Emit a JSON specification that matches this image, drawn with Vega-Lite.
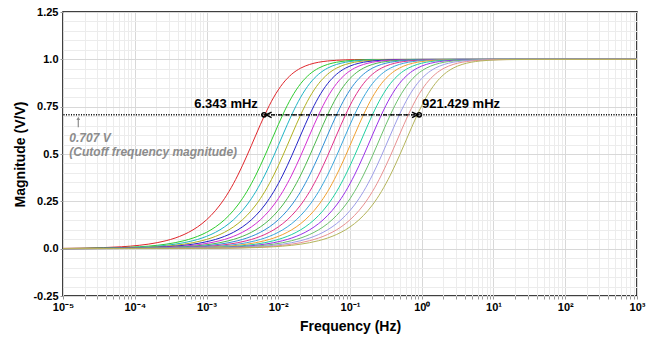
{
"$schema": "https://vega.github.io/schema/vega-lite/v6.json",
"width": 574, "height": 284,
"autosize": "none",
"padding": {"left": 63, "top": 12, "right": 19, "bottom": 43},
"background": "white",
"config": {"view": {"stroke": "#000", "strokeWidth": 1.5}, "font": "Liberation Sans"},
"resolve": {"axis": {"y": "independent"}},
"datasets": {
"curves": [
{"c":1,"f":1e-5,"m":0.0015},{"c":1,"f":2.054e-5,"m":0.0032},{"c":1,"f":3.652e-5,"m":0.0056},{"c":1,"f":6.494e-5,"m":0.01},{"c":1,"f":1.155e-4,"m":0.0178},
{"c":1,"f":2.054e-4,"m":0.0316},{"c":1,"f":2.738e-4,"m":0.0421},{"c":1,"f":3.652e-4,"m":0.0561},{"c":1,"f":4.87e-4,"m":0.0748},{"c":1,"f":6.494e-4,"m":0.0995},{"c":1,"f":8.66e-4,"m":0.1322},{"c":1,"f":1.155e-3,"m":0.1751},{"c":1,"f":1.54e-3,"m":0.2307},{"c":1,"f":2.054e-3,"m":0.3015},{"c":1,"f":2.738e-3,"m":0.3886},{"c":1,"f":3.652e-3,"m":0.4902},{"c":1,"f":4.87e-3,"m":0.5999},{"c":1,"f":6.494e-3,"m":0.7071},{"c":1,"f":8.66e-3,"m":0.8},{"c":1,"f":0.01155,"m":0.8716},{"c":1,"f":0.0154,"m":0.9214},{"c":1,"f":0.02054,"m":0.9535},{"c":1,"f":0.02738,"m":0.973},{"c":1,"f":0.03652,"m":0.9846},{"c":1,"f":0.0487,"m":0.9912},{"c":1,"f":0.06494,"m":0.995},
{"c":1,"f":0.1155,"m":0.9984},{"c":1,"f":0.2054,"m":0.9995},{"c":1,"f":1000,"m":1},

{"c":2,"f":1e-5,"m":0.0009},{"c":2,"f":3.652e-5,"m":0.0032},{"c":2,"f":6.494e-5,"m":0.0056},{"c":2,"f":1.155e-4,"m":0.01},{"c":2,"f":2.054e-4,"m":0.0178},
{"c":2,"f":3.652e-4,"m":0.0316},{"c":2,"f":4.87e-4,"m":0.0421},{"c":2,"f":6.494e-4,"m":0.0561},{"c":2,"f":8.66e-4,"m":0.0748},{"c":2,"f":1.155e-3,"m":0.0995},{"c":2,"f":1.54e-3,"m":0.1322},{"c":2,"f":2.054e-3,"m":0.1751},{"c":2,"f":2.738e-3,"m":0.2307},{"c":2,"f":3.652e-3,"m":0.3015},{"c":2,"f":4.87e-3,"m":0.3886},{"c":2,"f":6.494e-3,"m":0.4902},{"c":2,"f":8.66e-3,"m":0.5999},{"c":2,"f":0.01155,"m":0.7071},{"c":2,"f":0.0154,"m":0.8},{"c":2,"f":0.02054,"m":0.8716},{"c":2,"f":0.02738,"m":0.9214},{"c":2,"f":0.03652,"m":0.9535},{"c":2,"f":0.0487,"m":0.973},{"c":2,"f":0.06494,"m":0.9846},{"c":2,"f":0.0866,"m":0.9912},{"c":2,"f":0.1155,"m":0.995},
{"c":2,"f":0.2054,"m":0.9984},{"c":2,"f":0.3652,"m":0.9995},{"c":2,"f":1000,"m":1},

{"c":3,"f":1e-5,"m":0.0006},{"c":3,"f":4.87e-5,"m":0.0032},{"c":3,"f":8.66e-5,"m":0.0056},{"c":3,"f":1.54e-4,"m":0.01},{"c":3,"f":2.738e-4,"m":0.0178},
{"c":3,"f":4.87e-4,"m":0.0316},{"c":3,"f":6.494e-4,"m":0.0421},{"c":3,"f":8.66e-4,"m":0.0561},{"c":3,"f":1.155e-3,"m":0.0748},{"c":3,"f":1.54e-3,"m":0.0995},{"c":3,"f":2.054e-3,"m":0.1322},{"c":3,"f":2.738e-3,"m":0.1751},{"c":3,"f":3.652e-3,"m":0.2307},{"c":3,"f":4.87e-3,"m":0.3015},{"c":3,"f":6.494e-3,"m":0.3886},{"c":3,"f":8.66e-3,"m":0.4902},{"c":3,"f":0.01155,"m":0.5999},{"c":3,"f":0.0154,"m":0.7071},{"c":3,"f":0.02054,"m":0.8},{"c":3,"f":0.02738,"m":0.8716},{"c":3,"f":0.03652,"m":0.9214},{"c":3,"f":0.0487,"m":0.9535},{"c":3,"f":0.06494,"m":0.973},{"c":3,"f":0.0866,"m":0.9846},{"c":3,"f":0.1155,"m":0.9912},{"c":3,"f":0.154,"m":0.995},
{"c":3,"f":0.2738,"m":0.9984},{"c":3,"f":0.487,"m":0.9995},{"c":3,"f":1000,"m":1},

{"c":4,"f":1e-5,"m":0.0005},{"c":4,"f":6.494e-5,"m":0.0032},{"c":4,"f":1.155e-4,"m":0.0056},{"c":4,"f":2.054e-4,"m":0.01},{"c":4,"f":3.652e-4,"m":0.0178},
{"c":4,"f":6.494e-4,"m":0.0316},{"c":4,"f":8.66e-4,"m":0.0421},{"c":4,"f":1.155e-3,"m":0.0561},{"c":4,"f":1.54e-3,"m":0.0748},{"c":4,"f":2.054e-3,"m":0.0995},{"c":4,"f":2.738e-3,"m":0.1322},{"c":4,"f":3.652e-3,"m":0.1751},{"c":4,"f":4.87e-3,"m":0.2307},{"c":4,"f":6.494e-3,"m":0.3015},{"c":4,"f":8.66e-3,"m":0.3886},{"c":4,"f":0.01155,"m":0.4902},{"c":4,"f":0.0154,"m":0.5999},{"c":4,"f":0.02054,"m":0.7071},{"c":4,"f":0.02738,"m":0.8},{"c":4,"f":0.03652,"m":0.8716},{"c":4,"f":0.0487,"m":0.9214},{"c":4,"f":0.06494,"m":0.9535},{"c":4,"f":0.0866,"m":0.973},{"c":4,"f":0.1155,"m":0.9846},{"c":4,"f":0.154,"m":0.9912},{"c":4,"f":0.2054,"m":0.995},
{"c":4,"f":0.3652,"m":0.9984},{"c":4,"f":0.6494,"m":0.9995},{"c":4,"f":1000,"m":1},

{"c":5,"f":1e-5,"m":0.0004},{"c":5,"f":8.66e-5,"m":0.0032},{"c":5,"f":1.54e-4,"m":0.0056},{"c":5,"f":2.738e-4,"m":0.01},{"c":5,"f":4.87e-4,"m":0.0178},
{"c":5,"f":8.66e-4,"m":0.0316},{"c":5,"f":1.155e-3,"m":0.0421},{"c":5,"f":1.54e-3,"m":0.0561},{"c":5,"f":2.054e-3,"m":0.0748},{"c":5,"f":2.738e-3,"m":0.0995},{"c":5,"f":3.652e-3,"m":0.1322},{"c":5,"f":4.87e-3,"m":0.1751},{"c":5,"f":6.494e-3,"m":0.2307},{"c":5,"f":8.66e-3,"m":0.3015},{"c":5,"f":0.01155,"m":0.3886},{"c":5,"f":0.0154,"m":0.4902},{"c":5,"f":0.02054,"m":0.5999},{"c":5,"f":0.02738,"m":0.7071},{"c":5,"f":0.03652,"m":0.8},{"c":5,"f":0.0487,"m":0.8716},{"c":5,"f":0.06494,"m":0.9214},{"c":5,"f":0.0866,"m":0.9535},{"c":5,"f":0.1155,"m":0.973},{"c":5,"f":0.154,"m":0.9846},{"c":5,"f":0.2054,"m":0.9912},{"c":5,"f":0.2738,"m":0.995},
{"c":5,"f":0.487,"m":0.9984},{"c":5,"f":0.866,"m":0.9995},{"c":5,"f":1000,"m":1},

{"c":6,"f":1e-5,"m":0.0003},{"c":6,"f":1.155e-4,"m":0.0032},{"c":6,"f":2.054e-4,"m":0.0056},{"c":6,"f":3.652e-4,"m":0.01},{"c":6,"f":6.494e-4,"m":0.0178},
{"c":6,"f":1.155e-3,"m":0.0316},{"c":6,"f":1.54e-3,"m":0.0421},{"c":6,"f":2.054e-3,"m":0.0561},{"c":6,"f":2.738e-3,"m":0.0748},{"c":6,"f":3.652e-3,"m":0.0995},{"c":6,"f":4.87e-3,"m":0.1322},{"c":6,"f":6.494e-3,"m":0.1751},{"c":6,"f":8.66e-3,"m":0.2307},{"c":6,"f":0.01155,"m":0.3015},{"c":6,"f":0.0154,"m":0.3886},{"c":6,"f":0.02054,"m":0.4902},{"c":6,"f":0.02738,"m":0.5999},{"c":6,"f":0.03652,"m":0.7071},{"c":6,"f":0.0487,"m":0.8},{"c":6,"f":0.06494,"m":0.8716},{"c":6,"f":0.0866,"m":0.9214},{"c":6,"f":0.1155,"m":0.9535},{"c":6,"f":0.154,"m":0.973},{"c":6,"f":0.2054,"m":0.9846},{"c":6,"f":0.2738,"m":0.9912},{"c":6,"f":0.3652,"m":0.995},
{"c":6,"f":0.6494,"m":0.9984},{"c":6,"f":1.155,"m":0.9995},{"c":6,"f":1000,"m":1},

{"c":7,"f":1e-5,"m":0.0003},{"c":7,"f":1.54e-4,"m":0.0032},{"c":7,"f":2.738e-4,"m":0.0056},{"c":7,"f":4.87e-4,"m":0.01},{"c":7,"f":8.66e-4,"m":0.0178},
{"c":7,"f":1.54e-3,"m":0.0316},{"c":7,"f":2.054e-3,"m":0.0421},{"c":7,"f":2.738e-3,"m":0.0561},{"c":7,"f":3.652e-3,"m":0.0748},{"c":7,"f":4.87e-3,"m":0.0995},{"c":7,"f":6.494e-3,"m":0.1322},{"c":7,"f":8.66e-3,"m":0.1751},{"c":7,"f":0.01155,"m":0.2307},{"c":7,"f":0.0154,"m":0.3015},{"c":7,"f":0.02054,"m":0.3886},{"c":7,"f":0.02738,"m":0.4902},{"c":7,"f":0.03652,"m":0.5999},{"c":7,"f":0.0487,"m":0.7071},{"c":7,"f":0.06494,"m":0.8},{"c":7,"f":0.0866,"m":0.8716},{"c":7,"f":0.1155,"m":0.9214},{"c":7,"f":0.154,"m":0.9535},{"c":7,"f":0.2054,"m":0.973},{"c":7,"f":0.2738,"m":0.9846},{"c":7,"f":0.3652,"m":0.9912},{"c":7,"f":0.487,"m":0.995},
{"c":7,"f":0.866,"m":0.9984},{"c":7,"f":1.54,"m":0.9995},{"c":7,"f":1000,"m":1},

{"c":8,"f":1e-5,"m":0.0002},{"c":8,"f":2.054e-4,"m":0.0032},{"c":8,"f":3.652e-4,"m":0.0056},{"c":8,"f":6.494e-4,"m":0.01},{"c":8,"f":1.155e-3,"m":0.0178},
{"c":8,"f":2.054e-3,"m":0.0316},{"c":8,"f":2.738e-3,"m":0.0421},{"c":8,"f":3.652e-3,"m":0.0561},{"c":8,"f":4.87e-3,"m":0.0748},{"c":8,"f":6.494e-3,"m":0.0995},{"c":8,"f":8.66e-3,"m":0.1322},{"c":8,"f":0.01155,"m":0.1751},{"c":8,"f":0.0154,"m":0.2307},{"c":8,"f":0.02054,"m":0.3015},{"c":8,"f":0.02738,"m":0.3886},{"c":8,"f":0.03652,"m":0.4902},{"c":8,"f":0.0487,"m":0.5999},{"c":8,"f":0.06494,"m":0.7071},{"c":8,"f":0.0866,"m":0.8},{"c":8,"f":0.1155,"m":0.8716},{"c":8,"f":0.154,"m":0.9214},{"c":8,"f":0.2054,"m":0.9535},{"c":8,"f":0.2738,"m":0.973},{"c":8,"f":0.3652,"m":0.9846},{"c":8,"f":0.487,"m":0.9912},{"c":8,"f":0.6494,"m":0.995},
{"c":8,"f":1.155,"m":0.9984},{"c":8,"f":2.054,"m":0.9995},{"c":8,"f":1000,"m":1},

{"c":9,"f":1e-5,"m":0.0001},{"c":9,"f":2.738e-4,"m":0.0032},{"c":9,"f":4.87e-4,"m":0.0056},{"c":9,"f":8.66e-4,"m":0.01},{"c":9,"f":1.54e-3,"m":0.0178},
{"c":9,"f":2.738e-3,"m":0.0316},{"c":9,"f":3.652e-3,"m":0.0421},{"c":9,"f":4.87e-3,"m":0.0561},{"c":9,"f":6.494e-3,"m":0.0748},{"c":9,"f":8.66e-3,"m":0.0995},{"c":9,"f":0.01155,"m":0.1322},{"c":9,"f":0.0154,"m":0.1751},{"c":9,"f":0.02054,"m":0.2307},{"c":9,"f":0.02738,"m":0.3015},{"c":9,"f":0.03652,"m":0.3886},{"c":9,"f":0.0487,"m":0.4902},{"c":9,"f":0.06494,"m":0.5999},{"c":9,"f":0.0866,"m":0.7071},{"c":9,"f":0.1155,"m":0.8},{"c":9,"f":0.154,"m":0.8716},{"c":9,"f":0.2054,"m":0.9214},{"c":9,"f":0.2738,"m":0.9535},{"c":9,"f":0.3652,"m":0.973},{"c":9,"f":0.487,"m":0.9846},{"c":9,"f":0.6494,"m":0.9912},{"c":9,"f":0.866,"m":0.995},
{"c":9,"f":1.54,"m":0.9984},{"c":9,"f":2.738,"m":0.9995},{"c":9,"f":1000,"m":1},

{"c":10,"f":1e-5,"m":0.0001},{"c":10,"f":3.652e-4,"m":0.0032},{"c":10,"f":6.494e-4,"m":0.0056},{"c":10,"f":1.155e-3,"m":0.01},{"c":10,"f":2.054e-3,"m":0.0178},
{"c":10,"f":3.652e-3,"m":0.0316},{"c":10,"f":4.87e-3,"m":0.0421},{"c":10,"f":6.494e-3,"m":0.0561},{"c":10,"f":8.66e-3,"m":0.0748},{"c":10,"f":0.01155,"m":0.0995},{"c":10,"f":0.0154,"m":0.1322},{"c":10,"f":0.02054,"m":0.1751},{"c":10,"f":0.02738,"m":0.2307},{"c":10,"f":0.03652,"m":0.3015},{"c":10,"f":0.0487,"m":0.3886},{"c":10,"f":0.06494,"m":0.4902},{"c":10,"f":0.0866,"m":0.5999},{"c":10,"f":0.1155,"m":0.7071},{"c":10,"f":0.154,"m":0.8},{"c":10,"f":0.2054,"m":0.8716},{"c":10,"f":0.2738,"m":0.9214},{"c":10,"f":0.3652,"m":0.9535},{"c":10,"f":0.487,"m":0.973},{"c":10,"f":0.6494,"m":0.9846},{"c":10,"f":0.866,"m":0.9912},{"c":10,"f":1.155,"m":0.995},
{"c":10,"f":2.054,"m":0.9984},{"c":10,"f":3.652,"m":0.9995},{"c":10,"f":1000,"m":1},

{"c":11,"f":1e-5,"m":0.0001},{"c":11,"f":4.87e-4,"m":0.0032},{"c":11,"f":8.66e-4,"m":0.0056},{"c":11,"f":1.54e-3,"m":0.01},{"c":11,"f":2.738e-3,"m":0.0178},
{"c":11,"f":4.87e-3,"m":0.0316},{"c":11,"f":6.494e-3,"m":0.0421},{"c":11,"f":8.66e-3,"m":0.0561},{"c":11,"f":0.01155,"m":0.0748},{"c":11,"f":0.0154,"m":0.0995},{"c":11,"f":0.02054,"m":0.1322},{"c":11,"f":0.02738,"m":0.1751},{"c":11,"f":0.03652,"m":0.2307},{"c":11,"f":0.0487,"m":0.3015},{"c":11,"f":0.06494,"m":0.3886},{"c":11,"f":0.0866,"m":0.4902},{"c":11,"f":0.1155,"m":0.5999},{"c":11,"f":0.154,"m":0.7071},{"c":11,"f":0.2054,"m":0.8},{"c":11,"f":0.2738,"m":0.8716},{"c":11,"f":0.3652,"m":0.9214},{"c":11,"f":0.487,"m":0.9535},{"c":11,"f":0.6494,"m":0.973},{"c":11,"f":0.866,"m":0.9846},{"c":11,"f":1.155,"m":0.9912},{"c":11,"f":1.54,"m":0.995},
{"c":11,"f":2.738,"m":0.9984},{"c":11,"f":4.87,"m":0.9995},{"c":11,"f":1000,"m":1},

{"c":12,"f":1e-5,"m":0},{"c":12,"f":6.494e-4,"m":0.0032},{"c":12,"f":1.155e-3,"m":0.0056},{"c":12,"f":2.054e-3,"m":0.01},{"c":12,"f":3.652e-3,"m":0.0178},
{"c":12,"f":6.494e-3,"m":0.0316},{"c":12,"f":8.66e-3,"m":0.0421},{"c":12,"f":0.01155,"m":0.0561},{"c":12,"f":0.0154,"m":0.0748},{"c":12,"f":0.02054,"m":0.0995},{"c":12,"f":0.02738,"m":0.1322},{"c":12,"f":0.03652,"m":0.1751},{"c":12,"f":0.0487,"m":0.2307},{"c":12,"f":0.06494,"m":0.3015},{"c":12,"f":0.0866,"m":0.3886},{"c":12,"f":0.1155,"m":0.4902},{"c":12,"f":0.154,"m":0.5999},{"c":12,"f":0.2054,"m":0.7071},{"c":12,"f":0.2738,"m":0.8},{"c":12,"f":0.3652,"m":0.8716},{"c":12,"f":0.487,"m":0.9214},{"c":12,"f":0.6494,"m":0.9535},{"c":12,"f":0.866,"m":0.973},{"c":12,"f":1.155,"m":0.9846},{"c":12,"f":1.54,"m":0.9912},{"c":12,"f":2.054,"m":0.995},
{"c":12,"f":3.652,"m":0.9984},{"c":12,"f":6.494,"m":0.9995},{"c":12,"f":1000,"m":1},

{"c":13,"f":1e-5,"m":0},{"c":13,"f":8.66e-4,"m":0.0032},{"c":13,"f":1.54e-3,"m":0.0056},{"c":13,"f":2.738e-3,"m":0.01},{"c":13,"f":4.87e-3,"m":0.0178},
{"c":13,"f":8.66e-3,"m":0.0316},{"c":13,"f":0.01155,"m":0.0421},{"c":13,"f":0.0154,"m":0.0561},{"c":13,"f":0.02054,"m":0.0748},{"c":13,"f":0.02738,"m":0.0995},{"c":13,"f":0.03652,"m":0.1322},{"c":13,"f":0.0487,"m":0.1751},{"c":13,"f":0.06494,"m":0.2307},{"c":13,"f":0.0866,"m":0.3015},{"c":13,"f":0.1155,"m":0.3886},{"c":13,"f":0.154,"m":0.4902},{"c":13,"f":0.2054,"m":0.5999},{"c":13,"f":0.2738,"m":0.7071},{"c":13,"f":0.3652,"m":0.8},{"c":13,"f":0.487,"m":0.8716},{"c":13,"f":0.6494,"m":0.9214},{"c":13,"f":0.866,"m":0.9535},{"c":13,"f":1.155,"m":0.973},{"c":13,"f":1.54,"m":0.9846},{"c":13,"f":2.054,"m":0.9912},{"c":13,"f":2.738,"m":0.995},
{"c":13,"f":4.87,"m":0.9984},{"c":13,"f":8.66,"m":0.9995},{"c":13,"f":1000,"m":1},

{"c":14,"f":1e-5,"m":0},{"c":14,"f":1.155e-3,"m":0.0032},{"c":14,"f":2.054e-3,"m":0.0056},{"c":14,"f":3.652e-3,"m":0.01},{"c":14,"f":6.494e-3,"m":0.0178},
{"c":14,"f":0.01155,"m":0.0316},{"c":14,"f":0.0154,"m":0.0421},{"c":14,"f":0.02054,"m":0.0561},{"c":14,"f":0.02738,"m":0.0748},{"c":14,"f":0.03652,"m":0.0995},{"c":14,"f":0.0487,"m":0.1322},{"c":14,"f":0.06494,"m":0.1751},{"c":14,"f":0.0866,"m":0.2307},{"c":14,"f":0.1155,"m":0.3015},{"c":14,"f":0.154,"m":0.3886},{"c":14,"f":0.2054,"m":0.4902},{"c":14,"f":0.2738,"m":0.5999},{"c":14,"f":0.3652,"m":0.7071},{"c":14,"f":0.487,"m":0.8},{"c":14,"f":0.6494,"m":0.8716},{"c":14,"f":0.866,"m":0.9214},{"c":14,"f":1.155,"m":0.9535},{"c":14,"f":1.54,"m":0.973},{"c":14,"f":2.054,"m":0.9846},{"c":14,"f":2.738,"m":0.9912},{"c":14,"f":3.652,"m":0.995},
{"c":14,"f":6.494,"m":0.9984},{"c":14,"f":11.55,"m":0.9995},{"c":14,"f":1000,"m":1},

{"c":15,"f":1e-5,"m":0},{"c":15,"f":1.54e-3,"m":0.0032},{"c":15,"f":2.738e-3,"m":0.0056},{"c":15,"f":4.87e-3,"m":0.01},{"c":15,"f":8.66e-3,"m":0.0178},
{"c":15,"f":0.0154,"m":0.0316},{"c":15,"f":0.02054,"m":0.0421},{"c":15,"f":0.02738,"m":0.0561},{"c":15,"f":0.03652,"m":0.0748},{"c":15,"f":0.0487,"m":0.0995},{"c":15,"f":0.06494,"m":0.1322},{"c":15,"f":0.0866,"m":0.1751},{"c":15,"f":0.1155,"m":0.2307},{"c":15,"f":0.154,"m":0.3015},{"c":15,"f":0.2054,"m":0.3886},{"c":15,"f":0.2738,"m":0.4902},{"c":15,"f":0.3652,"m":0.5999},{"c":15,"f":0.487,"m":0.7071},{"c":15,"f":0.6494,"m":0.8},{"c":15,"f":0.866,"m":0.8716},{"c":15,"f":1.155,"m":0.9214},{"c":15,"f":1.54,"m":0.9535},{"c":15,"f":2.054,"m":0.973},{"c":15,"f":2.738,"m":0.9846},{"c":15,"f":3.652,"m":0.9912},{"c":15,"f":4.87,"m":0.995},
{"c":15,"f":8.66,"m":0.9984},{"c":15,"f":15.4,"m":0.9995},{"c":15,"f":1000,"m":1},

{"c":16,"f":1e-5,"m":0},{"c":16,"f":2.054e-3,"m":0.0032},{"c":16,"f":3.652e-3,"m":0.0056},{"c":16,"f":6.494e-3,"m":0.01},{"c":16,"f":0.01155,"m":0.0178},
{"c":16,"f":0.02054,"m":0.0316},{"c":16,"f":0.02738,"m":0.0421},{"c":16,"f":0.03652,"m":0.0561},{"c":16,"f":0.0487,"m":0.0748},{"c":16,"f":0.06494,"m":0.0995},{"c":16,"f":0.0866,"m":0.1322},{"c":16,"f":0.1155,"m":0.1751},{"c":16,"f":0.154,"m":0.2307},{"c":16,"f":0.2054,"m":0.3015},{"c":16,"f":0.2738,"m":0.3886},{"c":16,"f":0.3652,"m":0.4902},{"c":16,"f":0.487,"m":0.5999},{"c":16,"f":0.6494,"m":0.7071},{"c":16,"f":0.866,"m":0.8},{"c":16,"f":1.155,"m":0.8716},{"c":16,"f":1.54,"m":0.9214},{"c":16,"f":2.054,"m":0.9535},{"c":16,"f":2.738,"m":0.973},{"c":16,"f":3.652,"m":0.9846},{"c":16,"f":4.87,"m":0.9912},{"c":16,"f":6.494,"m":0.995},
{"c":16,"f":11.55,"m":0.9984},{"c":16,"f":20.54,"m":0.9995},{"c":16,"f":1000,"m":1},

{"c":17,"f":1e-5,"m":0},{"c":17,"f":2.738e-3,"m":0.0032},{"c":17,"f":4.87e-3,"m":0.0056},{"c":17,"f":8.66e-3,"m":0.01},{"c":17,"f":0.0154,"m":0.0178},
{"c":17,"f":0.02738,"m":0.0316},{"c":17,"f":0.03652,"m":0.0421},{"c":17,"f":0.0487,"m":0.0561},{"c":17,"f":0.06494,"m":0.0748},{"c":17,"f":0.0866,"m":0.0995},{"c":17,"f":0.1155,"m":0.1322},{"c":17,"f":0.154,"m":0.1751},{"c":17,"f":0.2054,"m":0.2307},{"c":17,"f":0.2738,"m":0.3015},{"c":17,"f":0.3652,"m":0.3886},{"c":17,"f":0.487,"m":0.4902},{"c":17,"f":0.6494,"m":0.5999},{"c":17,"f":0.866,"m":0.7071},{"c":17,"f":1.155,"m":0.8},{"c":17,"f":1.54,"m":0.8716},{"c":17,"f":2.054,"m":0.9214},{"c":17,"f":2.738,"m":0.9535},{"c":17,"f":3.652,"m":0.973},{"c":17,"f":4.87,"m":0.9846},{"c":17,"f":6.494,"m":0.9912},{"c":17,"f":8.66,"m":0.995},
{"c":17,"f":15.4,"m":0.9984},{"c":17,"f":27.38,"m":0.9995},{"c":17,"f":1000,"m":1}
]
},
"layer": [
{
"data": {"values": [{"m": 0.707}]},
"mark": {"type": "rule", "color": "#000", "strokeWidth": 1, "strokeDash": [1, 1.5]},
"encoding": {"y": {"field": "m", "type": "quantitative",
"scale": {"domain": [-0.25, 1.25], "nice": false, "zero": false},
"axis": {"orient": "right",
"values": [-0.2,-0.15,-0.1,-0.05,0.05,0.1,0.15,0.2,0.3,0.35,0.4,0.45,0.55,0.6,0.65,0.7,0.8,0.85,0.9,0.95,1.05,1.1,1.15,1.2],
"grid": true, "gridColor": "#ececec", "labels": false, "ticks": false, "domain": false, "title": null}}}
},
{
"data": {"name": "curves"},
"mark": {"type": "line", "strokeWidth": 1, "interpolate": "monotone"},
"encoding": {
"x": {"field": "f", "type": "quantitative",
"scale": {"type": "log", "domain": [1e-5, 1000], "nice": false},
"axis": {
"values": [1e-5,2e-5,3e-5,4e-5,5e-5,6e-5,7e-5,8e-5,9e-5,1e-4,2e-4,3e-4,4e-4,5e-4,6e-4,7e-4,8e-4,9e-4,1e-3,2e-3,3e-3,4e-3,5e-3,6e-3,7e-3,8e-3,9e-3,0.01,0.02,0.03,0.04,0.05,0.06,0.07,0.08,0.09,0.1,0.2,0.3,0.4,0.5,0.6,0.7,0.8,0.9,1,2,3,4,5,6,7,8,9,10,20,30,40,50,60,70,80,90,100,200,300,400,500,600,700,800,900,1000],
"labelExpr": "abs(log(datum.value)/LN10 - round(log(datum.value)/LN10)) < 0.001 ? '10' + ['⁻⁵','⁻⁴','⁻³','⁻²','⁻¹','⁰','¹','²','³'][round(log(datum.value)/LN10)+5] : ''",
"labelOverlap": false, "labelFontSize": 11, "labelFontWeight": "bold", "labelColor": "#000",
"labelPadding": 2, "labelFlush": false,
"grid": true,
"gridColor": {"condition": {"test": "abs(log(datum.value)/LN10 - round(log(datum.value)/LN10)) < 0.001", "value": "#d8d8d8"}, "value": "#ececec"},
"domain": false, "ticks": true, "tickSize": 3, "tickColor": "#999",
"title": "Frequency (Hz)", "titleFontSize": 14, "titleFontWeight": "bold", "titleColor": "#000",
"titleX": 287, "titleY": 30, "titleAlign": "center", "titleBaseline": "middle"
}},
"y": {"field": "m", "type": "quantitative",
"scale": {"domain": [-0.25, 1.25], "nice": false, "zero": false},
"axis": {
"values": [-0.25, 0, 0.25, 0.5, 0.75, 1, 1.25],
"labelExpr": "datum.value === 1 ? '1.0' : datum.value === 0 ? '0.0' : '' + datum.value",
"labelOverlap": false, "labelFontSize": 11, "labelFontWeight": "bold", "labelColor": "#000",
"labelPadding": 2, "labelFlush": false,
"grid": true, "gridColor": "#d8d8d8",
"domain": false, "ticks": true, "tickSize": 3, "tickColor": "#999",
"title": "Magnitude (V/V)", "titleFontSize": 14, "titleFontWeight": "bold", "titleColor": "#000",
"titleX": -43, "titleY": 142, "titleAlign": "center", "titleBaseline": "middle", "titleAngle": -90
}},
"color": {"field": "c", "type": "nominal", "legend": null,
"scale": {"domain": [1,2,3,4,5,6,7,8,9,10,11,12,13,14,15,16,17],
"range": ["#e0262b","#2ecc2e","#1fb4c4","#b0b020","#2424c8","#d22ed2","#4cb84c","#2e8fd6","#e0308a","#3aa6dc","#f0a030","#20d0a0","#9a30e8","#6cc06c","#9c9ce8","#e89090","#b4b45a"]}}
}
},
{
"data": {"values": [{"m": 0.707}]},
"mark": {"type": "rule", "color": "#000", "strokeWidth": 1, "strokeDash": [1, 1.5]},
"encoding": {"y": {"field": "m", "type": "quantitative", "axis": null}}
},
{
"data": {"values": [{"f1": 0.006343, "f2": 0.921429, "m": 0.707}]},
"mark": {"type": "rule", "color": "#000", "strokeWidth": 1.3, "strokeDash": [4, 3]},
"encoding": {
"x": {"field": "f1", "type": "quantitative"},
"x2": {"field": "f2"},
"y": {"field": "m", "type": "quantitative", "axis": null}
}
},
{
"data": {"values": [{"f": 0.006343, "m": 0.707}, {"f": 0.921429, "m": 0.707}]},
"mark": {"type": "point", "filled": false, "color": "#000", "strokeWidth": 1.5, "size": 18, "opacity": 1},
"encoding": {"x": {"field": "f", "type": "quantitative"}, "y": {"field": "m", "type": "quantitative", "axis": null}}
},
{
"data": {"values": [{"f": 0.0074, "m": 0.707}]},
"mark": {"type": "point", "shape": "M1,-1L-1,0L1,1", "filled": false, "color": "#000", "strokeWidth": 1.5, "size": 30, "opacity": 1},
"encoding": {"x": {"field": "f", "type": "quantitative"}, "y": {"field": "m", "type": "quantitative", "axis": null}}
},
{
"data": {"values": [{"f": 0.80, "m": 0.707}]},
"mark": {"type": "point", "shape": "M-1,-1L1,0L-1,1", "filled": false, "color": "#000", "strokeWidth": 1.5, "size": 30, "opacity": 1},
"encoding": {"x": {"field": "f", "type": "quantitative"}, "y": {"field": "m", "type": "quantitative", "axis": null}}
},
{
"data": {"values": [{"f": 1.633e-5, "m1": 0.641, "m2": 0.69}]},
"mark": {"type": "rule", "color": "#8c8c8c", "strokeWidth": 1.2},
"encoding": {"x": {"field": "f", "type": "quantitative"}, "y": {"field": "m1", "type": "quantitative", "axis": null}, "y2": {"field": "m2"}}
},
{
"data": {"values": [{"f": 1.633e-5, "m": 0.688}]},
"mark": {"type": "point", "shape": "triangle-up", "filled": true, "color": "#8c8c8c", "size": 14, "opacity": 1},
"encoding": {"x": {"field": "f", "type": "quantitative"}, "y": {"field": "m", "type": "quantitative", "axis": null}}
},
{
"data": {"values": [{"f": 0.0052, "m": 0.764, "t": "6.343 mHz"}]},
"mark": {"type": "text", "align": "right", "baseline": "middle", "fontSize": 13, "fontWeight": "bold", "color": "#000"},
"encoding": {"x": {"field": "f", "type": "quantitative"}, "y": {"field": "m", "type": "quantitative", "axis": null}, "text": {"field": "t"}}
},
{
"data": {"values": [{"f": 1.008, "m": 0.764, "t": "921.429 mHz"}]},
"mark": {"type": "text", "align": "left", "baseline": "middle", "fontSize": 13, "fontWeight": "bold", "color": "#000"},
"encoding": {"x": {"field": "f", "type": "quantitative"}, "y": {"field": "m", "type": "quantitative", "axis": null}, "text": {"field": "t"}}
},
{
"data": {"values": [{"f": 1.225e-5, "m": 0.587, "t": "0.707 V"}, {"f": 1.225e-5, "m": 0.508, "t": "(Cutoff frequency magnitude)"}]},
"mark": {"type": "text", "align": "left", "baseline": "middle", "fontSize": 12, "fontWeight": "bold", "fontStyle": "italic", "color": "#8c8c8c"},
"encoding": {"x": {"field": "f", "type": "quantitative"}, "y": {"field": "m", "type": "quantitative", "axis": null}, "text": {"field": "t"}}
}
]
}
